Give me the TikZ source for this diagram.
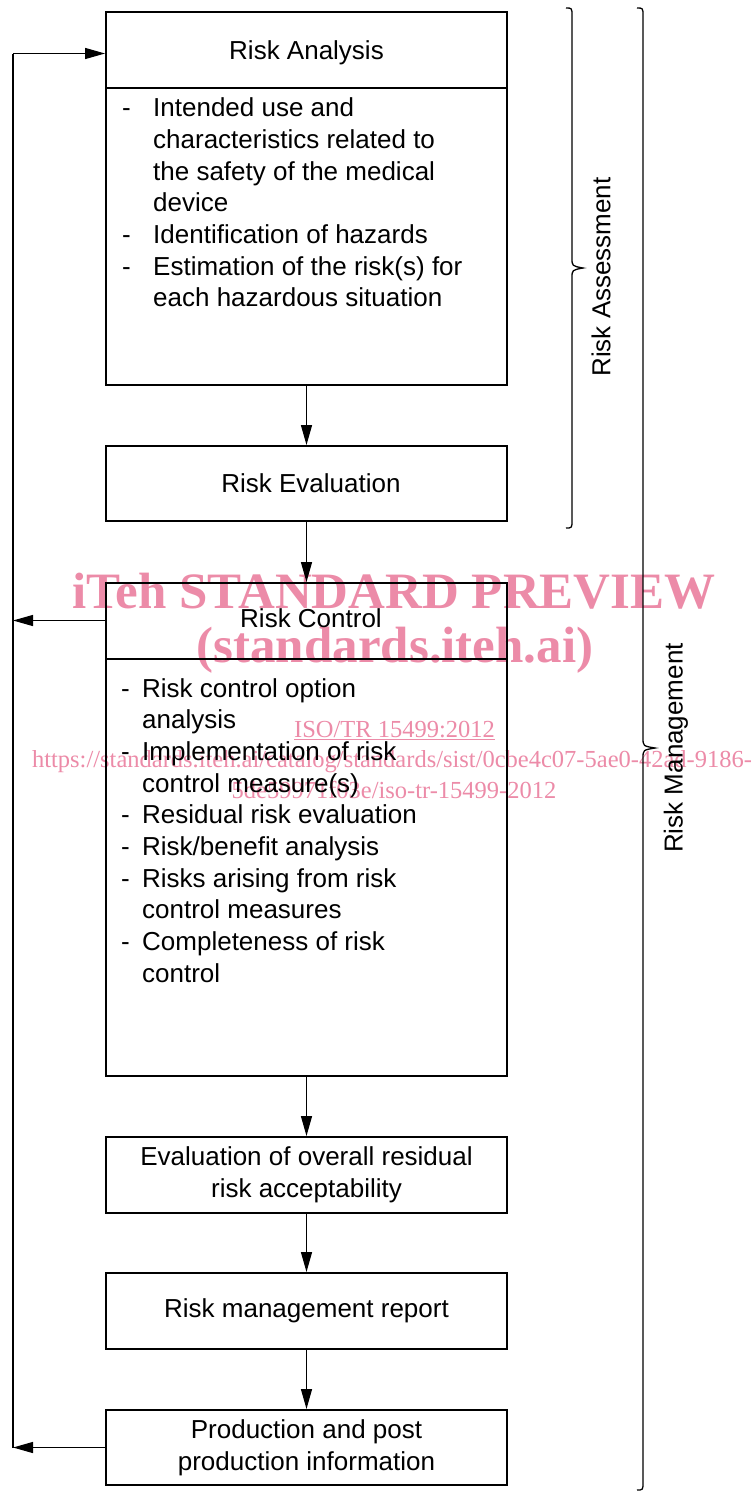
\documentclass[tikz,border=0pt]{standalone}
\usepackage{fontspec}
\setmainfont{Liberation Sans}
\newfontfamily\wmserif{Liberation Serif}
\usetikzlibrary{arrows.meta}
\definecolor{wm}{RGB}{236,139,168}
\begin{document}
\begin{tikzpicture}[x=1pt,y=-1pt,
  box/.style={draw, line width=2pt, minimum width=401pt, inner sep=0pt, align=center,
              font=\fontsize{26}{31.7}\selectfont},
  conn/.style={line width=1.3pt, -{Triangle[length=20pt,width=11pt]}},
  lbl/.style={font=\fontsize{26}{31.7}\selectfont, inner sep=0pt},
  bracestyle/.style={line width=1.3pt},
  wmbig/.style={text=wm, font=\wmserif\bfseries\fontsize{51}{54}\selectfont, inner sep=0pt},
  wmsmall/.style={text=wm, font=\wmserif\fontsize{24.5}{30}\selectfont, inner sep=0pt}
]
\useasboundingbox (0,0) rectangle (755,1492);

% watermark (behind the diagram)
\node[wmbig, anchor=base] (wm1) at (394,608) {iTeh STANDARD PREVIEW};
\node[wmbig, anchor=base] (wm2) at (395,662) {(standards.iteh.ai)};
\node[wmsmall, anchor=base] (wm3) at (394.5,737) {\underline{ISO/TR 15499:2012}};
\node[wmsmall, anchor=base] (wm4) at (392,767.5) {https://standards.iteh.ai/catalog/standards/sist/0cbe4c07-5ae0-42ad-9186-};
\node[wmsmall, anchor=base] (wm5) at (394,798) {5de59971f03e/iso-tr-15499-2012};

% Risk Analysis
\node[box, minimum height=373pt] (ra) at (306.5,198.5) {};
\node[lbl, anchor=base] (raT) at (306.5,59.3) {Risk Analysis};
\coordinate (raD) at (0,87.5);
\draw[line width=2pt] (ra.west |- raD) -- (ra.east |- raD);
\node[lbl, anchor=base west] (raB) at (122,116.7) {%
  \begin{tabular}[t]{@{}p{31pt}@{}l@{}}
  - & Intended use and\\
    & characteristics related to\\
    & the safety of the medical\\
    & device\\
  - & Identification of hazards\\
  - & Estimation of the risk(s) for\\
    & each hazardous situation
  \end{tabular}};

% Risk Evaluation
\node[box, minimum height=75pt] (re) at (306.5,483.5) {\hspace*{9pt}Risk Evaluation};

% Risk Control
\node[box, minimum height=493pt] (rc) at (306.5,829.5) {};
\node[lbl, anchor=base] (rcT) at (311,627) {Risk Control};
\coordinate (rcD) at (0,659);
\draw[line width=2pt] (rc.west |- rcD) -- (rc.east |- rcD);
\node[lbl, anchor=base west] (rcB) at (121,697) {%
  \begin{tabular}[t]{@{}p{21pt}@{}l@{}}
  - & Risk control option\\
    & analysis\\
  - & Implementation of risk\\
    & control measure(s)\\
  - & Residual risk evaluation\\
  - & Risk/benefit analysis\\
  - & Risks arising from risk\\
    & control measures\\
  - & Completeness of risk\\
    & control
  \end{tabular}};

% lower boxes
\node[box, minimum height=76pt] (ev) at (306.5,1175) {Evaluation of overall residual\\risk acceptability};
\node[box, minimum height=76pt] (rm) at (306.5,1311) {Risk management report};
\node[box, minimum height=75pt] (pp) at (306.5,1447.5) {Production and post\\production information};

% main flow
\draw[conn] (ra.south) -- (re.north);
\draw[conn] (re.south) -- (rc.north);
\draw[conn] (rc.south) -- (ev.north);
\draw[conn] (ev.south) -- (rm.north);
\draw[conn] (rm.south) -- (pp.north);

% feedback loop
\coordinate (fbTop) at (13,53.5);
\coordinate (fbMid) at (13,620.5);
\coordinate (fbBot) at (13,1447.5);
\draw[line width=1.3pt] (fbBot) -- (fbTop);
\draw[conn] (fbTop) -- (fbTop -| ra.west);
\draw[conn] (rc.west |- fbMid) -- (fbMid);
\draw[conn] (pp.west) -- (fbBot);

% braces
\draw[bracestyle] (566,8) .. controls (572,8) .. (572,16) -- (572,258)
  .. controls (572,266) .. (583,268) .. controls (572,270) .. (572,278)
  -- (572,520) .. controls (572,528) .. (566,528);
\draw[bracestyle] (637,8) .. controls (643,8) .. (643,16) -- (643,738)
  .. controls (643,746) .. (655,748) .. controls (643,750) .. (643,758)
  -- (643,1482) .. controls (643,1490) .. (637,1490);
\node[lbl, rotate=90] (raL) at (601,277) {Risk Assessment};
\node[lbl, rotate=90] (rmL) at (676,748) {Risk Management};
\end{tikzpicture}
\end{document}
